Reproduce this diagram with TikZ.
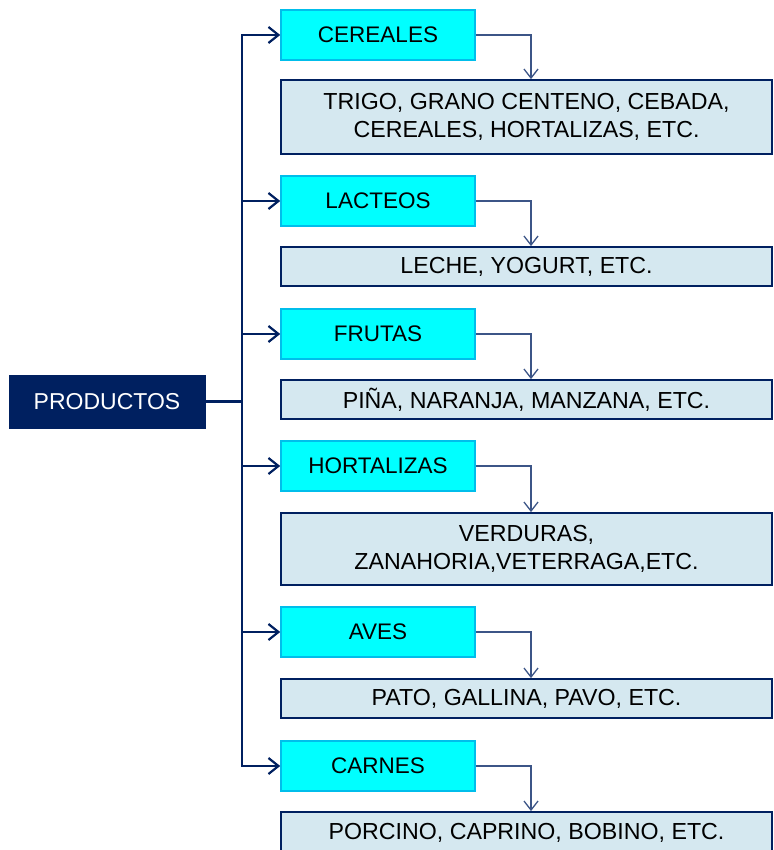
\documentclass[tikz,border=0pt]{standalone}
\usepackage{fontspec}
\setmainfont{Liberation Sans}
\usetikzlibrary{arrows.meta}
\definecolor{navy}{RGB}{0,32,96}
\definecolor{cyanfill}{RGB}{0,255,255}
\definecolor{cyanline}{RGB}{0,190,235}
\definecolor{paleblue}{RGB}{213,232,240}
\definecolor{slate}{RGB}{60,85,135}
\tikzset{
  root/.style={fill=navy, draw=navy, text=white, minimum width=196pt, minimum height=53pt,
    inner sep=0pt, font=\fontsize{23}{28}\selectfont},
  catbox/.style={fill=cyanfill, draw=cyanline, line width=1.6pt, minimum width=194pt,
    minimum height=50pt, inner sep=0pt, font=\fontsize{22.5}{27}\selectfont},
  detbox/.style={fill=paleblue, draw=navy, line width=1.8pt, minimum width=491pt,
    inner sep=0pt, align=center, font=\fontsize{23.2}{28}\selectfont},
  trunk/.style={draw=navy, line width=2.4pt, -{Straight Barb[length=10pt,width=16pt,line width=2.2pt]}},
  feed/.style={draw=slate, line width=1.4pt, -{Straight Barb[length=9pt,width=14pt,line width=1.3pt]}},
}
\begin{document}
\begin{tikzpicture}[x=1pt,y=-1pt]
  \useasboundingbox (0,0) rectangle (773,850);
  \clip (0,0) rectangle (773,850);

  % root node
  \node[root] (prod) at (107,401.5) {PRODUCTOS};

  % category boxes
  \node[catbox] (c1) at (378,35) {CEREALES};
  \node[catbox] (c2) at (378,201) {LACTEOS};
  \node[catbox] (c3) at (378,334) {FRUTAS};
  \node[catbox] (c4) at (378,466) {HORTALIZAS};
  \node[catbox] (c5) at (378,632) {AVES};
  \node[catbox] (c6) at (378,766) {CARNES};

  % detail boxes
  \node[detbox, minimum height=74pt] (d1) at (526.5,117) {TRIGO, GRANO CENTENO, CEBADA,\\CEREALES, HORTALIZAS, ETC.};
  \node[detbox, minimum height=39pt] (d2) at (526.5,266.5) {LECHE, YOGURT, ETC.};
  \node[detbox, minimum height=39pt] (d3) at (526.5,399.5) {PIÑA, NARANJA, MANZANA, ETC.};
  \node[detbox, minimum height=72pt] (d4) at (526.5,549) {VERDURAS,\\ZANAHORIA,VETERRAGA,ETC.};
  \node[detbox, minimum height=39pt] (d5) at (526.5,698.5) {PATO, GALLINA, PAVO, ETC.};
  \node[detbox, minimum height=42pt] (d6) at (526.5,833) {PORCINO, CAPRINO, BOBINO, ETC.};

  % trunk from the root to every category
  \foreach \c in {c1,c2,c3,c4,c5,c6}
    \draw[trunk] (prod.east) -- ++(37,0) |- (\c.west);

  % each category feeds its detail box
  \foreach \i in {1,...,6}
    \draw[feed] (c\i.east) -| ([xshift=4.5pt]d\i.north);
\end{tikzpicture}
\end{document}
